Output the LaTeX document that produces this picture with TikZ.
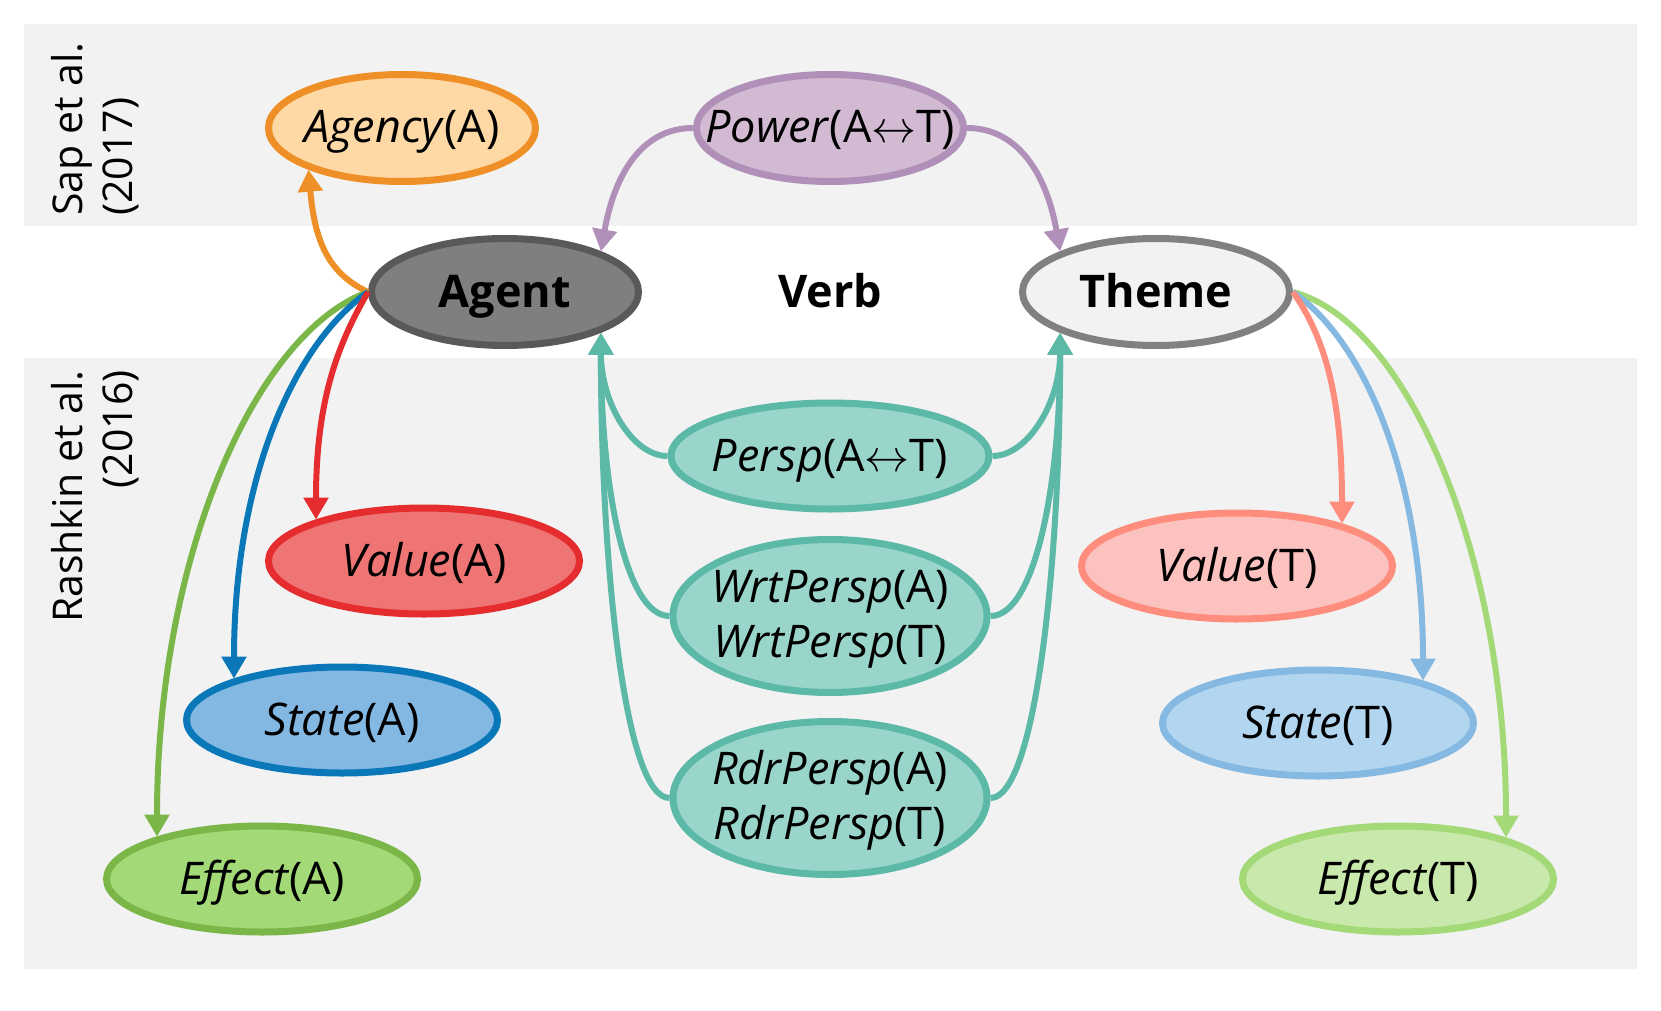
\RequirePackage{fix-cm}
\documentclass[tikz,border=0pt]{standalone}
\usepackage{fontspec}
\setmainfont{Open Sans}
\usetikzlibrary{arrows.meta,shapes.geometric}
\definecolor{bandgray}{HTML}{F2F2F2}
\definecolor{agyF}{HTML}{FED9A6}\definecolor{agyD}{HTML}{EF8F27}
\definecolor{powF}{HTML}{D3BAD3}\definecolor{powD}{HTML}{B090B8}
\definecolor{agtF}{HTML}{7F7F7F}\definecolor{agtD}{HTML}{595959}
\definecolor{thmF}{HTML}{F2F2F2}\definecolor{thmD}{HTML}{808080}
\definecolor{tealF}{HTML}{99D5CA}\definecolor{tealD}{HTML}{5CB9A7}
\definecolor{vaF}{HTML}{EF7575}\definecolor{vaD}{HTML}{E52D2F}
\definecolor{saF}{HTML}{83B8E2}\definecolor{saD}{HTML}{0A77B8}
\definecolor{eaF}{HTML}{A3D977}\definecolor{eaD}{HTML}{7AB648}
\definecolor{vtF}{HTML}{FBC2C0}\definecolor{vtD}{HTML}{FF8D7D}
\definecolor{stF}{HTML}{B3D6F0}\definecolor{stD}{HTML}{85B9E2}
\definecolor{etF}{HTML}{C8E8AC}\definecolor{etD}{HTML}{A3D977}
\newcommand\diagfont{\fontsize{45}{55}\selectfont}
\newcommand\sidefont{\fontsize{41}{50}\selectfont}
\newcommand\ovtext[1]{\makebox[0pt]{\raisebox{-15pt}[0pt][0pt]{#1}}}
\newcommand\ovtwo[2]{\makebox[0pt]{\raisebox{14pt}[0pt][0pt]{\begin{tabular}[t]{@{}c@{}}#1\\#2\end{tabular}}}}
\newcommand\lrarr{$\leftrightarrow$}
\begin{document}
\begin{tikzpicture}[x=1pt,y=1pt,
  ovbase/.style={ellipse,draw,line width=7pt,inner sep=0pt,font=\diagfont},
  ovtop/.style={ovbase,minimum width=267pt,minimum height=107pt},
  ovwide/.style={ovbase,minimum width=311pt,minimum height=106pt},
  ovtall/.style={ovbase,minimum width=314pt,minimum height=153pt},
  conn/.style={line width=6pt,-{Triangle[length=22pt,width=24pt]}},
  sidelab/.style={font=\sidefont,rotate=90,inner sep=0pt}
]
\path[use as bounding box] (0,0) rectangle (1661,-1011);
\fill[bandgray] (24,-24) rectangle (1637,-226);
\fill[bandgray] (24,-358) rectangle (1637,-969);

% side labels
\node[sidelab,anchor=base west] (sap1) at (82,-216) {Sap et al.};
\node[sidelab,anchor=base west] (sap2) at (132,-216) {(2017)};
\node[sidelab,anchor=base east] (ras1) at (82,-370) {Rashkin et al.};
\node[sidelab,anchor=base east] (ras2) at (132,-370) {(2016)};

% nodes
\node[ovtop,fill=agyF,draw=agyD] (agency) at (402,-128) {\ovtext{\textit{Agency}(A)}};
\node[ovtop,fill=powF,draw=powD] (power) at (830,-128) {\ovtext{\textit{Power}(A\lrarr T)}};
\node[ovtop,fill=agtF,draw=agtD] (agent) at (505,-292) {\ovtext{\textbf{Agent}}};
\node[font=\diagfont] (verb) at (830,-291) {\textbf{Verb}};
\node[ovtop,fill=thmF,draw=thmD] (theme) at (1156,-292) {\ovtext{\textbf{Theme}}};

\node[ovbase,minimum width=318pt,minimum height=106pt,fill=tealF,draw=tealD] (persp) at (830,-456) {\ovtext{\textit{Persp}(A\lrarr T)}};
\node[ovtall,fill=tealF,draw=tealD] (wrt) at (830,-616) {\ovtwo{\textit{WrtPersp}(A)}{\textit{WrtPersp}(T)}};
\node[ovtall,fill=tealF,draw=tealD] (rdr) at (830,-798) {\ovtwo{\textit{RdrPersp}(A)}{\textit{RdrPersp}(T)}};

\node[ovwide,fill=vaF,draw=vaD] (valA) at (424,-561) {\ovtext{\textit{Value}(A)}};
\node[ovwide,fill=saF,draw=saD] (staA) at (342,-720) {\ovtext{\textit{State}(A)}};
\node[ovwide,fill=eaF,draw=eaD] (effA) at (262,-879) {\ovtext{\textit{Effect}(A)}};
\node[ovwide,fill=vtF,draw=vtD] (valT) at (1237,-566) {\ovtext{\textit{Value}(T)}};
\node[ovwide,fill=stF,draw=stD] (staT) at (1318,-723) {\ovtext{\textit{State}(T)}};
\node[ovwide,fill=etF,draw=etD] (effT) at (1398,-879) {\ovtext{\textit{Effect}(T)}};

% connectors: top
\draw[conn,agyD] (agent.west) .. controls +(155:45) and +(-85:70) .. (agency.204);
\draw[conn,powD] (power.west) .. controls +(180:50) and +(80:80) .. (agent.23);
\draw[conn,powD] (power.east) .. controls +(0:50) and +(100:80) .. (theme.157);

% teal
\draw[conn,tealD] (persp.west) .. controls +(180:35) and +(-90:70) .. (agent.-23);
\draw[conn,tealD] (wrt.west) .. controls +(180:45) and +(-90:150) .. (agent.-23);
\draw[conn,tealD] (rdr.west) .. controls +(180:45) and +(-90:230) .. (agent.-23);
\draw[conn,tealD] (persp.east) .. controls +(0:35) and +(-90:70) .. (theme.-157);
\draw[conn,tealD] (wrt.east) .. controls +(0:45) and +(-90:150) .. (theme.-157);
\draw[conn,tealD] (rdr.east) .. controls +(0:45) and +(-90:230) .. (theme.-157);

% agent side
\draw[conn,eaD] (agent.west) .. controls +(-160:120) and +(90:280) .. (effA.158);
\draw[conn,saD] (agent.west) .. controls +(-145:90) and +(90:200) .. (staA.159);
\draw[conn,vaD] (agent.west) .. controls +(-120:60) and +(90:120) .. (valA.159);

% theme side
\draw[conn,etD] (theme.east) .. controls +(-15:120) and +(90:280) .. (effT.21);
\draw[conn,stD] (theme.east) .. controls +(-35:90) and +(90:200) .. (staT.22);
\draw[conn,vtD] (theme.east) .. controls +(-55:60) and +(90:120) .. (valT.22);
\end{tikzpicture}
\end{document}
